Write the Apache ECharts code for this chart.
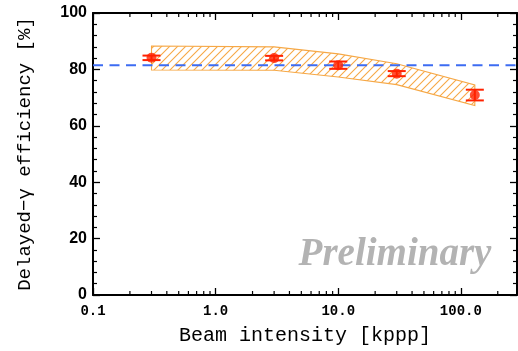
<!DOCTYPE html>
<html><head><meta charset="utf-8">
<script src="https://cdn.jsdelivr.net/npm/echarts@6/dist/echarts.min.js"></script>
<style>html,body{margin:0;padding:0;background:#fff}#c{width:518px;height:351px}</style>
</head><body><div id="c"></div>
<script>
// ---- data ----
const beamIntensity = [0.3, 3, 10, 30, 130];
const efficiency = [84.1, 84.0, 81.5, 78.5, 70.9];
const efficiencyErr = [0.8, 0.8, 1.3, 0.9, 1.9];
const bandX = [0.3, 3, 10, 30, 130];
const bandUpper = [88.3, 88.0, 85.5, 82.0, 74.5];
const bandLower = [79.8, 79.7, 77.3, 74.6, 67.2];
const referenceLevel = 81.5;
const xTickValues = [0.1, 1, 10, 100];
const xTickLabels = ['0.1', '1.0', '10.0', '100.0'];
const yTickValues = [0, 20, 40, 60, 80, 100];
const yTickLabels = ['0', '20', '40', '60', '80', '100'];
const xMin = 0.1, xMax = 287;
const yMin = 0, yMax = 100;

// minor log ticks (2..9 per decade)
const minorTicks = [];
xTickValues.forEach(d => { for (let k = 2; k <= 9; k++) { const v = k * d; if (v < xMax) minorTicks.push(v); } });

// hatch pattern
const hatchColor = '#f6a846';
const tile = document.createElement('canvas');
tile.width = 8; tile.height = 8;
const g = tile.getContext('2d');
g.strokeStyle = hatchColor; g.lineWidth = 1.1;
g.beginPath();
g.moveTo(-1, 9); g.lineTo(9, -1);
g.moveTo(-1, 1); g.lineTo(1, -1);
g.moveTo(7, 9); g.lineTo(9, 7);
g.stroke();

const monoFont = '"Liberation Mono", "DejaVu Sans Mono", monospace';

function xLabel(v) {
  for (let i = 0; i < xTickValues.length; i++) {
    if (Math.abs(v - xTickValues[i]) / xTickValues[i] < 1e-6) return xTickLabels[i];
  }
  return '';
}
function yLabel(v) {
  const i = yTickValues.indexOf(v);
  return i >= 0 ? yTickLabels[i] : '';
}

const chart = echarts.init(document.getElementById('c'), null, { renderer: 'canvas' });
const axisLine = { show: true, onZero: false, lineStyle: { color: '#000', width: 2 } };
const option = {
  animation: false,
  backgroundColor: '#fff',
  grid: { left: 93, right: 1, top: 13, bottom: 55, containLabel: false },
  xAxis: [{
    type: 'log', logBase: 10, min: xMin, max: xMax, position: 'bottom',
    name: 'Beam intensity [kppp]', nameLocation: 'middle', nameGap: 31,
    nameTextStyle: { fontFamily: monoFont, fontSize: 20, color: '#000' },
    axisLine: axisLine,
    axisTick: { show: true, inside: true, length: 7, lineStyle: { color: '#000', width: 1.3 } },
    axisLabel: { show: true, margin: 9, showMaxLabel: false, fontFamily: monoFont, fontWeight: 'bold', fontSize: 14, color: '#000', formatter: xLabel },
    splitLine: { show: false }
  }, {
    type: 'log', logBase: 10, min: xMin, max: xMax, position: 'top',
    axisLine: axisLine,
    axisTick: { show: true, inside: true, length: 7, lineStyle: { color: '#000', width: 1.3 } },
    axisLabel: { show: false }, splitLine: { show: false }
  }],
  yAxis: [{
    type: 'value', min: yMin, max: yMax, interval: 20, position: 'left',
    name: 'Delayed\u2212\u03b3 efficiency [%]', nameLocation: 'middle', nameGap: 59,
    nameTextStyle: { fontFamily: monoFont, fontSize: 19, color: '#000' },
    axisLine: axisLine,
    axisTick: { show: true, inside: true, length: 7, lineStyle: { color: '#000', width: 1.3 } },
    minorTick: { show: true, splitNumber: 5, length: 4, lineStyle: { color: '#000', width: 1.2 } },
    axisLabel: { show: true, margin: 6, fontFamily: '"Liberation Sans", Arial, sans-serif', fontWeight: 'bold', fontSize: 16, color: '#000', formatter: yLabel },
    splitLine: { show: false }
  }, {
    type: 'value', min: yMin, max: yMax, interval: 20, position: 'right',
    axisLine: axisLine,
    axisTick: { show: true, inside: true, length: 7, lineStyle: { color: '#000', width: 1.3 } },
    minorTick: { show: true, splitNumber: 5, length: 4, lineStyle: { color: '#000', width: 1.2 } },
    axisLabel: { show: false }, splitLine: { show: false }
  }],
  series: [
    { // hatched band
      type: 'custom', silent: true, clip: false, z: 1,
      data: [[bandX[0], bandLower[0]]],
      renderItem: function (params, api) {
        const pts = [];
        for (let i = 0; i < bandX.length; i++) pts.push(api.coord([bandX[i], bandUpper[i]]));
        for (let i = bandX.length - 1; i >= 0; i--) pts.push(api.coord([bandX[i], bandLower[i]]));
        return { type: 'polygon', shape: { points: pts }, style: { fill: { image: tile, repeat: 'repeat' }, stroke: hatchColor, lineWidth: 1.1 } };
      }
    },
    { // reference dashed line
      type: 'line', silent: true, symbol: 'none', z: 3,
      data: [[xMin, referenceLevel], [xMax, referenceLevel]],
      lineStyle: { color: '#3d6cf2', width: 2, type: [10, 6.5] }
    },
    { // minor log ticks on bottom and top axes
      type: 'custom', silent: true, clip: false, z: 5,
      data: minorTicks.map(v => [v, yMin]),
      renderItem: function (params, api) {
        const v = api.value(0);
        const b = api.coord([v, yMin]);
        const t = api.coord([v, yMax]);
        const st = { stroke: '#000', lineWidth: 1.2 };
        return { type: 'group', children: [
          { type: 'line', shape: { x1: b[0], y1: b[1], x2: b[0], y2: b[1] - 4 }, style: st },
          { type: 'line', shape: { x1: t[0], y1: t[1], x2: t[0], y2: t[1] + 4 }, style: st }
        ] };
      }
    },
    { // error bars
      type: 'custom', silent: true, clip: false, z: 6,
      data: beamIntensity.map((x, i) => [x, efficiency[i], efficiencyErr[i]]),
      renderItem: function (params, api) {
        const x = api.value(0), y = api.value(1), e = api.value(2);
        const hi = api.coord([x, y + e]);
        const lo = api.coord([x, y - e]);
        const hw = 9;
        const st = { stroke: '#ff2200', lineWidth: 2 };
        return { type: 'group', children: [
          { type: 'line', shape: { x1: hi[0], y1: hi[1], x2: lo[0], y2: lo[1] }, style: st },
          { type: 'line', shape: { x1: hi[0] - hw, y1: hi[1], x2: hi[0] + hw, y2: hi[1] }, style: st },
          { type: 'line', shape: { x1: lo[0] - hw, y1: lo[1], x2: lo[0] + hw, y2: lo[1] }, style: st }
        ] };
      }
    },
    { // data points
      type: 'scatter', silent: true, z: 7,
      symbol: 'circle', symbolSize: 10,
      itemStyle: { color: '#ff2200' },
      data: beamIntensity.map((x, i) => [x, efficiency[i]])
    }
  ],
  graphic: [{
    type: 'text', silent: true, z: 0,
    x: 395, y: 255,
    style: {
      text: 'Preliminary', fill: '#b3b3b3',
      font: 'italic bold 39px "Liberation Serif", "Times New Roman", serif',
      textAlign: 'center', textVerticalAlign: 'middle'
    }
  }]
};
chart.setOption(option);
</script>
</body></html>
